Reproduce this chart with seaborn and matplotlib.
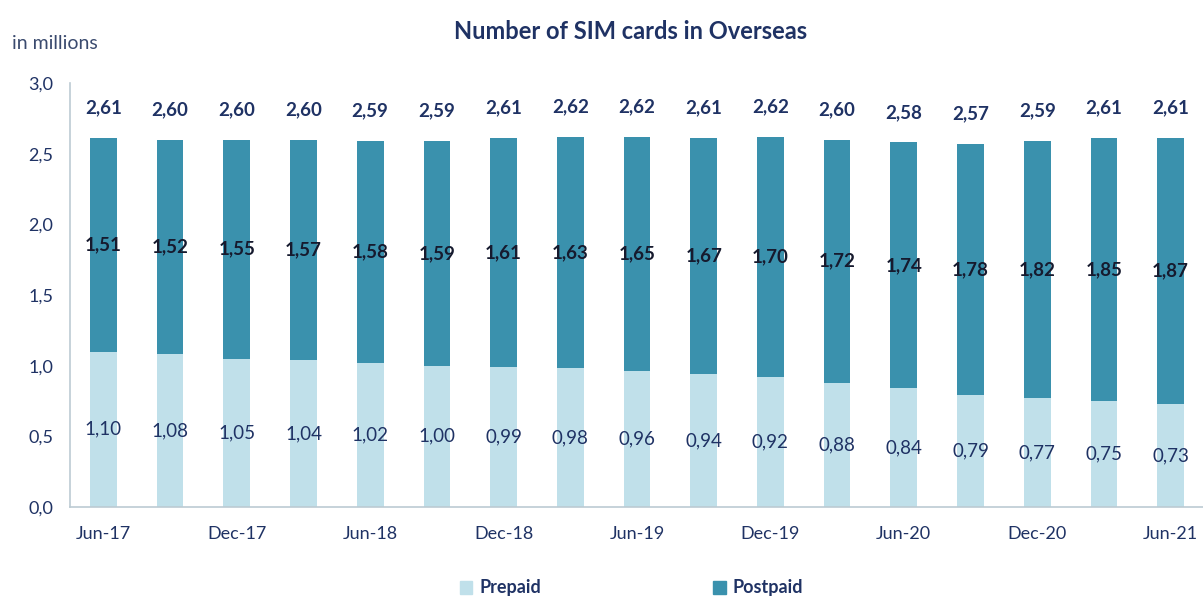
import seaborn as sns
import pandas as pd
import matplotlib.pyplot as plt
import matplotlib.ticker as mticker
from matplotlib.patches import Patch

periods = ['Jun-17', 'Sep-17', 'Dec-17', 'Mar-18', 'Jun-18', 'Sep-18', 'Dec-18', 'Mar-19',
           'Jun-19', 'Sep-19', 'Dec-19', 'Mar-20', 'Jun-20', 'Sep-20', 'Dec-20', 'Mar-21', 'Jun-21']
prepaid = [1.10, 1.08, 1.05, 1.04, 1.02, 1.00, 0.99, 0.98, 0.96, 0.94, 0.92, 0.88, 0.84, 0.79, 0.77, 0.75, 0.73]
postpaid = [1.51, 1.52, 1.55, 1.57, 1.58, 1.59, 1.61, 1.63, 1.65, 1.67, 1.70, 1.72, 1.74, 1.78, 1.82, 1.85, 1.87]
totals = [2.61, 2.60, 2.60, 2.60, 2.59, 2.59, 2.61, 2.62, 2.62, 2.61, 2.62, 2.60, 2.58, 2.57, 2.59, 2.61, 2.61]

PRE_COLOR = '#c0e0ea'
POST_COLOR = '#3a91ad'
NAVY = '#1f3264'
AXIS_COLOR = '#bccbd3'

sns.set_style('white')
plt.rcParams['font.family'] = ['Lato', 'DejaVu Sans']

df = pd.DataFrame({'period': periods, 'prepaid': prepaid, 'postpaid': postpaid, 'total': totals})

fig = plt.figure(figsize=(12.03, 6.0), dpi=100)
ax = fig.add_axes([0.0582, 0.155, 0.9426, 0.7067])

# full bar in postpaid colour, prepaid drawn over the bottom part
sns.barplot(data=df, x='period', y='total', color=POST_COLOR, width=0.4, saturation=1,
            linewidth=0, ax=ax)
sns.barplot(data=df, x='period', y='prepaid', color=PRE_COLOR, width=0.4, saturation=1,
            linewidth=0, ax=ax)

fmt = lambda v: f"{v:.2f}".replace('.', ',')
for i, row in df.iterrows():
    ax.annotate(fmt(row['total']), (i, row['total']), xytext=(0, 21.5), textcoords='offset points',
                ha='center', va='center', fontsize=13.5, fontweight='bold', color=NAVY)
    ax.text(i, (row['prepaid'] + row['total']) / 2, fmt(row['postpaid']), ha='center', va='center',
            fontsize=13.5, fontweight='bold', color='#161a2e')
    ax.text(i, row['prepaid'] / 2, fmt(row['prepaid']), ha='center', va='center',
            fontsize=13.5, color=NAVY)

ax.set_xlim(-0.5, len(periods) - 0.5)
ax.set_ylim(0, 3.0)
ax.yaxis.set_major_locator(mticker.MultipleLocator(0.5))
ax.yaxis.set_major_formatter(mticker.FuncFormatter(lambda v, p: f"{v:.1f}".replace('.', ',')))

ax.set_xticks(range(len(periods)))
ax.set_xticklabels([p if i % 2 == 0 else '' for i, p in enumerate(periods)])
ax.set_xticks([i - 0.5 for i in range(len(periods) + 1)], minor=True)
ax.tick_params(axis='x', which='major', length=0, pad=14, labelsize=13, labelcolor=NAVY)
ax.tick_params(axis='x', which='minor', length=6, width=1, color=AXIS_COLOR, direction='out')
ax.tick_params(axis='y', which='major', length=6, width=1, color=AXIS_COLOR, direction='out',
               labelsize=13, labelcolor=NAVY, pad=6)
ax.set_xlabel('')
ax.set_ylabel('')

for side in ['top', 'right']:
    ax.spines[side].set_visible(False)
for side in ['left', 'bottom']:
    ax.spines[side].set_color(AXIS_COLOR)
    ax.spines[side].set_linewidth(1.2)

fig.text(0.524, 0.948, 'Number of SIM cards in Overseas', ha='center', va='center',
         fontsize=17, fontweight='bold', color=NAVY)
fig.text(0.01, 0.928, 'in millions', ha='left', va='center', fontsize=14, color='#3a4a6e')

handles = [Patch(color=PRE_COLOR, label='Prepaid'), Patch(color=POST_COLOR, label='Postpaid')]
leg = fig.legend(handles=handles, loc='center', bbox_to_anchor=(0.525, 0.02), ncol=2, frameon=False,
                 handlelength=0.7, handleheight=0.7, handletextpad=0.4, columnspacing=9.5,
                 prop={'size': 13, 'weight': 'bold'})
for t in leg.get_texts():
    t.set_color(NAVY)

plt.savefig('out.png', dpi=100)
plt.close()
